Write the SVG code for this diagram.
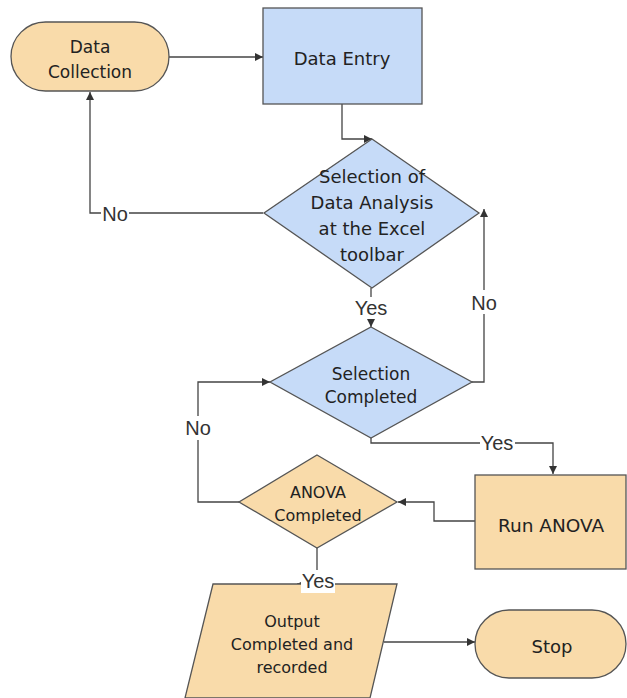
<svg xmlns="http://www.w3.org/2000/svg" width="627" height="698" viewBox="0 0 627 698">
<style>
.orange{fill:#f9dbaa;stroke:#555;stroke-width:1.3}
.blue{fill:#c6dbf8;stroke:#555;stroke-width:1.3}
.t{font-family:"DejaVu Sans",Verdana,sans-serif;fill:#222;text-anchor:middle}
.lbl{font-family:"Liberation Sans",Arial,sans-serif;font-size:20px;fill:#333;text-anchor:middle}
.c{fill:none;stroke:#444;stroke-width:1.3}
.bg{fill:#fff}
</style>
<defs>
<marker id="ah" viewBox="0 0 10 10" refX="10" refY="5" markerWidth="9" markerHeight="8" markerUnits="userSpaceOnUse" orient="auto">
<path d="M0,0 L10,5 L0,10 z" fill="#333"/>
</marker>
</defs>
<rect width="627" height="698" fill="#fff"/>
<g id="connectors">
<path class="c" d="M169,57 H263" marker-end="url(#ah)"/>
<path class="c" d="M342,104 V139 H372" marker-end="url(#ah)"/>
<path class="c" d="M263,213 H90 V92" marker-end="url(#ah)"/>
<path class="c" d="M371,288 V327" marker-end="url(#ah)"/>
<path class="c" d="M472,382 H484 V209" marker-end="url(#ah)"/>
<path class="c" d="M371,438 V443 H553 V474" marker-end="url(#ah)"/>
<path class="c" d="M475,521 H434 V502 H398" marker-end="url(#ah)"/>
<path class="c" d="M239,502 H198 V382 H270" marker-end="url(#ah)"/>
<path class="c" d="M317,548 V575"/>
<path class="c" d="M305,584 H297" marker-end="url(#ah)"/>
<path class="c" d="M384,642 H475" marker-end="url(#ah)"/>
</g>
<g id="data-collection">
<rect class="orange" x="11" y="22" width="158" height="69" rx="34.5"/>
<text class="t" font-size="17" x="90" y="53">Data</text>
<text class="t" font-size="17" x="90" y="78">Collection</text>
</g>
<g id="data-entry">
<rect class="blue" x="263" y="8" width="159" height="96"/>
<text class="t" font-size="18" x="342" y="65">Data Entry</text>
</g>
<g id="selection-of-data-analysis">
<polygon class="blue" points="372,139 479,213 372,288 264,213"/>
<text class="t" font-size="18" x="372" y="183">Selection of</text>
<text class="t" font-size="18" x="372" y="209">Data Analysis</text>
<text class="t" font-size="18" x="372" y="235">at the Excel</text>
<text class="t" font-size="18" x="372" y="261">toolbar</text>
</g>
<g id="selection-completed">
<polygon class="blue" points="371,327 472,382 371,438 270,382"/>
<text class="t" font-size="17" x="371" y="380">Selection</text>
<text class="t" font-size="17" x="371" y="403">Completed</text>
</g>
<g id="run-anova">
<rect class="orange" x="475" y="475" width="151" height="94"/>
<text class="t" font-size="18.5" x="551" y="532">Run ANOVA</text>
</g>
<g id="anova-completed">
<polygon class="orange" points="317,455 397,502 317,548 239,502"/>
<text class="t" font-size="16" x="318" y="498">ANOVA</text>
<text class="t" font-size="16" x="318" y="521">Completed</text>
</g>
<g id="output">
<polygon class="orange" points="213,584 397,584 370,698 185,698"/>
<text class="t" font-size="16" x="292" y="627">Output</text>
<text class="t" font-size="16" x="292" y="650">Completed and</text>
<text class="t" font-size="16" x="292" y="673">recorded</text>
</g>
<g id="stop">
<rect class="orange" x="475" y="610" width="151" height="68" rx="34"/>
<text class="t" font-size="18" x="552" y="653">Stop</text>
</g>
<g id="labels">
<rect class="bg" x="101" y="203" width="28" height="22"/>
<text class="lbl" x="115" y="221">No</text>
<rect class="bg" x="354" y="297" width="35" height="22"/>
<text class="lbl" x="371" y="315">Yes</text>
<rect class="bg" x="471" y="290" width="27" height="24"/>
<text class="lbl" x="484" y="310">No</text>
<rect class="bg" x="480" y="432" width="35" height="22"/>
<text class="lbl" x="497" y="450">Yes</text>
<rect class="bg" x="185" y="416" width="27" height="24"/>
<text class="lbl" x="198" y="435">No</text>
<rect class="bg" x="301" y="570" width="34" height="23"/>
<text class="lbl" x="318" y="588">Yes</text>
</g>
</svg>
